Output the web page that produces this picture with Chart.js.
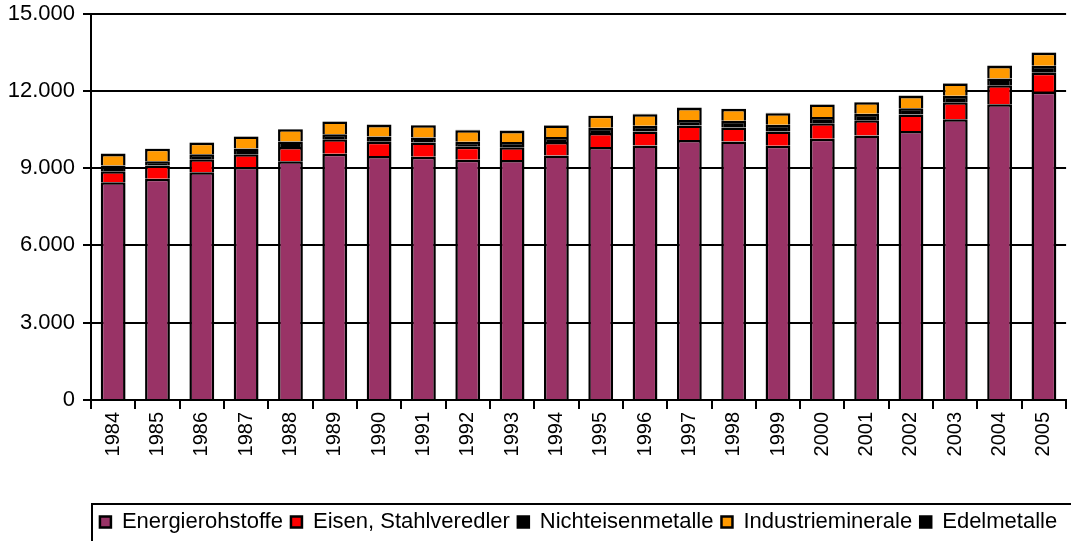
<!DOCTYPE html>
<html>
<head>
<meta charset="utf-8">
<script src="https://cdn.jsdelivr.net/npm/chart.js@4"></script>
<style>
  body { margin: 0; background: #fff; }
  #wrap { width: 1071px; height: 541px; }
</style>
</head>
<body>
<div id="wrap"><canvas id="chart" width="1071" height="541"></canvas></div>
<script>
const years = ['1984', '1985', '1986', '1987', '1988', '1989', '1990', '1991', '1992', '1993', '1994',
  '1995', '1996', '1997', '1998', '1999', '2000', '2001', '2002', '2003', '2004', '2005'];

const energierohstoffe = [8450, 8590, 8840, 9040, 9270, 9560, 9470, 9440, 9320, 9310, 9490,
  9820, 9880, 10090, 10030, 9870, 10140, 10270, 10440, 10900, 11480, 11960];
const eisenStahl = [430, 510, 500, 500, 550, 560, 550, 550, 510, 500, 520,
  540, 540, 560, 550, 550, 600, 590, 640, 660, 740, 740];
const nichteisen = [220, 170, 195, 220, 210, 195, 210, 195, 195, 205, 195,
  205, 220, 220, 260, 260, 245, 245, 245, 245, 260, 275];
const industrieminerale = [450, 480, 450, 465, 475, 490, 445, 475, 445, 425, 450,
  465, 450, 465, 450, 450, 480, 450, 475, 480, 485, 505];
const edelmetalle = [15, 15, 15, 15, 15, 15, 15, 15, 15, 15, 15,
  15, 15, 15, 15, 15, 15, 15, 15, 15, 15, 15];

const yTicks = [0, 3000, 6000, 9000, 12000, 15000];

const fontFamily = '"Liberation Sans", Arial, sans-serif';

function fmt(v) {
  return String(v).replace(/\B(?=(\d{3})+(?!\d))/g, '.');
}

function ds(label, data, color) {
  return {
    label: label,
    data: data,
    backgroundColor: color,
    borderColor: '#000',
    borderWidth: 2.5,
    categoryPercentage: 1,
    barPercentage: 0.56
  };
}

// frame round the legend, like the original
const legendFrame = {
  id: 'legendFrame',
  afterDraw(chart) {
    const ctx = chart.ctx;
    ctx.save();
    ctx.strokeStyle = '#000';
    ctx.lineWidth = 2;
    ctx.strokeRect(chart.chartArea.left + 1, chart.legend.top + 1, 1100, 80);
    ctx.restore();
  }
};

new Chart(document.getElementById('chart'), {
  type: 'bar',
  data: {
    labels: years,
    datasets: [
      ds('Energierohstoffe', energierohstoffe, '#993366'),
      ds('Eisen, Stahlveredler', eisenStahl, '#FF0000'),
      ds('Nichteisenmetalle', nichteisen, '#000000'),
      ds('Industrieminerale', industrieminerale, '#FF9900'),
      ds('Edelmetalle', edelmetalle, '#000000')
    ]
  },
  options: {
    responsive: false,
    animation: false,
    layout: { padding: { top: 4, right: 3, left: 0, bottom: -2 } },
    plugins: {
      tooltip: { enabled: false },
      legend: {
        position: 'bottom',
        fullSize: false,
        labels: {
          color: '#000',
          font: { family: fontFamily, size: 22 },
          boxWidth: 11,
          boxHeight: 11,
          padding: 8
        }
      }
    },
    scales: {
      x: {
        stacked: true,
        grid: { drawOnChartArea: false, drawTicks: true, tickLength: 9, color: '#000', lineWidth: 2 },
        border: { color: '#000', width: 2 },
        ticks: { color: '#000', font: { family: fontFamily, size: 20 }, minRotation: 90, maxRotation: 90, padding: 3 },
        afterFit(scale) { scale.height = 103; }
      },
      y: {
        stacked: true,
        min: 0,
        max: 15000,
        afterBuildTicks(scale) { scale.ticks = yTicks.map(v => ({ value: v })); },
        grid: { color: '#000', lineWidth: 2, tickLength: 8 },
        border: { color: '#000', width: 2 },
        ticks: { color: '#000', font: { family: fontFamily, size: 22, lineHeight: 0.5 }, padding: 8, callback: v => fmt(v) },
        afterFit(scale) { scale.width = 91; }
      }
    }
  },
  plugins: [legendFrame]
});
</script>
</body>
</html>
